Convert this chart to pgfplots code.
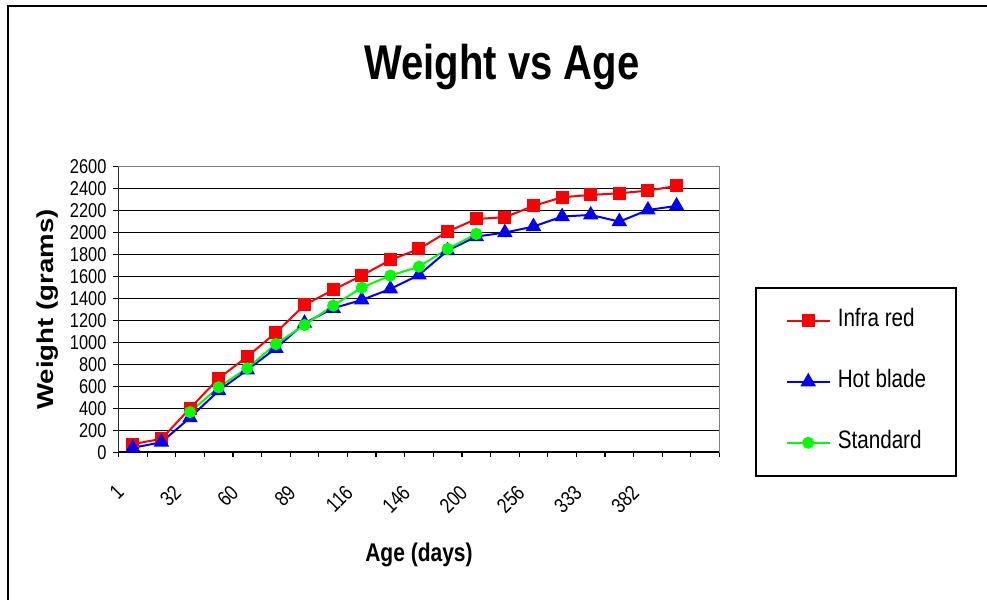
\documentclass[border=0pt]{standalone}
\usepackage{fontspec}
\setmainfont{Liberation Sans}[FakeStretch=0.82]
\newfontfamily\ylabfont{Liberation Sans}[FakeStretch=1.2]
\usepackage{pgfplots}
\pgfplotsset{compat=1.18}

\begin{document}
\begin{tikzpicture}
\path[use as bounding box] (0pt,0pt) rectangle (493.5pt,300pt);
\draw[line width=1pt] (4pt,0pt) -- (4pt,297pt) -- (493.5pt,297pt);
\begin{axis}[
  at={(59.25pt,73.85pt)}, anchor=south west,
  scale only axis, width=300.5pt, height=142.8pt,
  xmin=-0.5, xmax=20.5, ymin=0, ymax=2600,
  xtick={0,2,...,18},
  xticklabels={1,32,60,89,116,146,200,256,333,382},
  minor xtick={-0.5,0.5,1.5,2.5,3.5,4.5,5.5,6.5,7.5,8.5,9.5,10.5,11.5,12.5,13.5,14.5,15.5,16.5,17.5,18.5,19.5,20.5},
  ytick={0,200,...,2600},
  xtick pos=left, ytick pos=left,
  tick align=outside,
  major tick length=2.5pt, minor tick length=2.5pt,
  major x tick style={draw=none},
  every tick/.style={black, line width=0.6pt},
  ymajorgrids,
  major grid style={black, line width=0.75pt},
  axis line style={draw=black!50, line width=0.75pt},
  /pgf/number format/assume math mode=true,
  /pgf/number format/1000 sep={},
  yticklabel style={font=\fontsize{10}{12}\selectfont},
  xticklabel style={font=\fontsize{10.5}{12}\selectfont, xshift=-9pt, yshift=-13pt, rotate=45, anchor=north east, inner sep=0pt},
  every axis title shift=0pt,
  title={Weight vs Age},
  title style={at={(axis description cs:0.638,1.3036)}, anchor=base, font=\fontsize{24.4}{28}\selectfont\bfseries},
  xlabel={Age (days)},
  xlabel style={at={(axis description cs:0.5,-0.382)}, anchor=base, font=\fontsize{12.8}{15}\selectfont\bfseries},
  ylabel={Weight (grams)},
  ylabel style={at={(axis description cs:-0.118,0.5)}, anchor=center, font=\ylabfont\fontsize{11.5}{14}\selectfont\bfseries},
  legend style={at={(axis description cs:1.059,0.5788)}, anchor=north west, draw=black, line width=0.8pt,
    inner xsep=15pt, inner ysep=10.5pt, row sep=18.5pt, column sep=3.5pt,
    nodes={inner sep=0pt, text height=9pt, text depth=3pt},
    font=\fontsize{12.6}{14}\selectfont},
  legend cell align=left,
  legend image code/.code={\draw[#1, mark repeat=2, mark phase=2] plot coordinates {(0pt,0pt) (10.75pt,0pt) (21.5pt,0pt)};},
]
\draw[black, line width=1pt] (rel axis cs:0,1) -- (rel axis cs:0,0) -- (rel axis cs:1,0);
\addplot[red, line width=1pt, mark=square*, mark size=2.75pt, mark options={solid, fill=red}] coordinates {
(0,75) (1,122) (2,400) (3,674) (4,871) (5,1090) (6,1341) (7,1478) (8,1609) (9,1751)
(10,1851) (11,2009) (12,2124) (13,2140) (14,2243) (15,2322) (16,2343) (17,2358) (18,2382) (19,2425)};
\addlegendentry{Infra red}
\addplot[blue, line width=1pt, mark=triangle*, mark size=3.5pt, mark options={solid, fill=blue}] coordinates {
(0,40) (1,92) (2,315) (3,561) (4,750) (5,947) (6,1175) (7,1311) (8,1387) (9,1487)
(10,1615) (11,1836) (12,1964) (13,2000) (14,2055) (15,2146) (16,2161) (17,2100) (18,2206) (19,2243)};
\addlegendentry{Hot blade}
\addplot[green, line width=1pt, mark=*, mark size=2.5pt, mark options={solid, fill=green}] coordinates {
(2,366) (3,592) (4,765) (5,986) (6,1159) (7,1335) (8,1499) (9,1609) (10,1690) (11,1851) (12,1988)};
\addlegendentry{Standard}
\end{axis}
\end{tikzpicture}
\end{document}
